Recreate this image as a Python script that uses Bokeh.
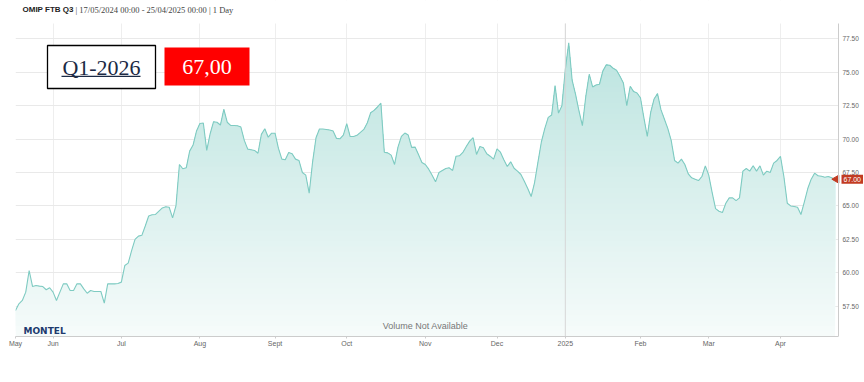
import numpy as np
from bokeh.plotting import figure
from bokeh.models import (FixedTicker, NumeralTickFormatter, Label, BoxAnnotation, Range1d)
from bokeh.embed import file_html
from bokeh.resources import INLINE

# ---------------- data ----------------
# daily settlement prices, one per trading day from 17/05/2024 to 25/04/2025
price = [
    57.18, 57.68, 57.93, 58.55, 60.17, 58.97, 59.05, 59.00, 58.97, 58.73,
    58.88, 58.55, 57.93, 58.55, 59.17, 59.17, 58.67, 58.67, 59.17, 59.17,
    58.80, 58.47, 58.67, 58.60, 58.60, 58.60, 57.73, 59.17, 59.17, 59.17,
    59.20, 59.30, 60.54, 60.72, 61.65, 62.50, 62.74, 62.80, 63.50, 64.25,
    64.34, 64.36, 64.61, 64.85, 64.94, 64.90, 64.11, 65.03, 68.10, 67.78,
    67.85, 69.10, 69.55, 70.60, 71.16, 71.20, 69.15, 70.40, 71.30, 71.26,
    71.05, 72.23, 71.26, 71.02, 71.02, 71.00, 70.90, 69.90, 69.25, 69.20,
    69.15, 68.94, 70.35, 70.77, 70.14, 70.44, 70.44, 69.30, 68.50, 68.45,
    69.00, 68.90, 68.50, 68.40, 67.50, 67.30, 65.95, 68.30, 70.10, 70.75,
    70.75, 70.72, 70.68, 70.60, 70.05, 70.02, 70.30, 71.15, 70.19, 70.19,
    70.28, 70.50, 70.72, 71.20, 71.97, 72.15, 72.40, 72.68, 69.02, 68.97,
    68.80, 68.10, 69.40, 70.20, 70.45, 70.30, 69.38, 69.40, 68.85, 68.25,
    68.10, 67.75, 67.30, 66.80, 67.50, 67.65, 67.80, 67.85, 67.65, 68.72,
    68.75, 69.00, 69.45, 69.85, 70.10, 68.85, 69.45, 69.35, 68.90, 68.72,
    68.50, 69.27, 69.02, 68.45, 67.95, 68.30, 67.82, 67.60, 67.35, 66.85,
    66.30, 65.70, 66.75, 68.30, 69.80, 70.80, 71.62, 71.80, 74.00, 71.94,
    72.50, 75.20, 77.20, 74.40, 73.35, 72.10, 71.00, 73.20, 74.85, 73.90,
    74.05, 74.10, 75.10, 75.55, 75.52, 75.30, 75.15, 74.70, 74.20, 72.50,
    73.95, 73.55, 73.45, 73.09, 71.60, 70.20, 72.00, 73.00, 73.40, 72.20,
    71.50, 70.80, 69.90, 68.40, 68.20, 68.50, 68.10, 67.40, 67.10, 67.00,
    66.90, 67.20, 68.00, 67.30, 66.00, 64.80, 64.60, 64.50, 65.20, 65.60,
    65.60, 65.40, 65.60, 67.60, 67.80, 67.60, 68.00, 67.60, 68.00, 67.30,
    67.60, 67.50, 68.20, 68.40, 68.70, 67.20, 65.20, 65.00, 64.96, 64.90,
    64.36, 65.30, 66.30, 67.00, 67.45, 67.26, 67.22, 67.15, 67.20, 67.10,
    67.00,
]
day = list(range(len(price)))          # trading-day index (ordinal axis)

month_ticks = [0, 11, 31, 54, 76, 97, 120, 141, 161, 183, 203, 224]
month_labels = ["May", "Jun", "Jul", "Aug", "Sept", "Oct", "Nov", "Dec",
                "2025", "Feb", "Mar", "Apr"]
year_tick = 161
y_ticks = [57.5, 60.0, 62.5, 65.0, 67.5, 70.0, 72.5, 75.0, 77.5]

title_name = "OMIP FTB Q3"
title_rest = "| 17/05/2024 00:00 - 25/04/2025 00:00 | 1 Day"
contract = "Q1-2026"
last_price = 67.00

# ---------------- geometry (page pixels) ----------------
W, H = 864, 382
PX_L, PX_AX, PY_TOP_PLOT, PY_B = 15, 838, 23, 336
X_PER = 3.415                     # px per trading day
Y_PER = 13.37                     # px per EUR
X0 = 0.0
X1 = (W - PX_L) / X_PER
Y0 = 77.5 - (PY_B - 38.3) / Y_PER
Y1 = 77.5 + 38.3 / Y_PER
X_AX = (PX_AX - PX_L) / X_PER
Y_TOP = 77.5 + (38.3 - PY_TOP_PLOT) / Y_PER

def sx(px):
    return X0 + (px - PX_L) / X_PER

def sy(py):
    return Y1 - py / Y_PER

p = figure(width=W, height=H, output_backend="svg", toolbar_location=None,
           x_range=Range1d(X0, X1), y_range=Range1d(Y0, Y1),
           y_axis_location="right",
           min_border_left=PX_L, min_border_right=0, min_border_top=0,
           min_border_bottom=H - PY_B)
p.outline_line_color = None
p.background_fill_color = "white"
p.border_fill_color = "white"

# grid
p.xgrid.ticker = FixedTicker(ticks=month_ticks)
p.xgrid.grid_line_color = "#eeeeee"
p.ygrid.ticker = FixedTicker(ticks=y_ticks)
p.ygrid.grid_line_color = "#e9e9e9"
# blank the grid outside the plotting area (above it and right of the axis)
p.add_layout(BoxAnnotation(bottom=Y_TOP, fill_color="white", fill_alpha=1.0,
                           line_color=None, level="underlay"))
p.add_layout(BoxAnnotation(left=X_AX + 0.15, fill_color="white", fill_alpha=1.0,
                           line_color=None, level="underlay"))

# gradient area (opaque bands, bottom to top)
arr = np.array(price)
levels = np.linspace(Y0, Y_TOP, 60)
base = np.array([124, 203, 194])
for k in range(len(levels) - 1):
    lo = levels[k]
    t = (levels[k + 1] - Y0) / (Y_TOP - Y0)
    a = 0.06 + 0.48 * t
    c = (base * a + 255 * (1 - a)).astype(int)
    col = "#%02x%02x%02x" % tuple(c)
    y1 = np.minimum(arr, lo) if k > 0 else np.full_like(arr, Y0)
    p.varea(x=day, y1=y1, y2=arr, fill_color=col, fill_alpha=1.0)

# year separator line (visible through the area)
p.add_layout(BoxAnnotation(left=year_tick - 0.14, right=year_tick + 0.14,
                           bottom=Y0, top=Y_TOP, fill_color="#d6d6d6",
                           fill_alpha=1.0, line_color=None, level="glyph"))

p.line(day, price, line_color="#7fcbc2", line_width=1.1)

# axes
xa = p.xaxis[0]
xa.ticker = FixedTicker(ticks=month_ticks)
xa.major_label_overrides = {t: l for t, l in zip(month_ticks, month_labels)}
xa.bounds = (X0, X_AX)
xa.axis_line_color = "#cccccc"
xa.major_tick_line_color = "#cccccc"
xa.major_tick_out = 2
xa.major_tick_in = 0
xa.minor_tick_line_color = None
xa.major_label_text_font = "Liberation Sans"
xa.major_label_text_font_size = "7px"
xa.major_label_text_color = "#666666"
xa.major_label_standoff = 1

ya = p.yaxis[0]
ya.fixed_location = X_AX
ya.bounds = (Y0, Y_TOP)
ya.ticker = FixedTicker(ticks=y_ticks)
ya.formatter = NumeralTickFormatter(format="0.00")
ya.axis_line_color = "#cccccc"
ya.major_tick_line_color = None
ya.minor_tick_line_color = None
ya.major_tick_out = 0
ya.major_label_text_font = "Liberation Sans"
ya.major_label_text_font_size = "6.5px"
ya.major_label_text_color = "#666666"
ya.major_label_standoff = 4

# title
p.add_layout(Label(x=sx(22), y=sy(9), text=title_name, text_font="Liberation Sans",
                   text_font_style="bold", text_font_size="8px", text_color="#222222",
                   text_baseline="middle"))
p.add_layout(Label(x=sx(75), y=sy(9), text=title_rest, text_font="Liberation Serif",
                   text_font_size="8.5px", text_color="#444444", text_baseline="middle"))

# contract box
p.add_layout(BoxAnnotation(left=sx(47), right=sx(155), top=sy(45), bottom=sy(88),
                           fill_color="white", fill_alpha=1.0, line_color="black",
                           line_width=1.3, line_alpha=1.0))
p.add_layout(Label(x=sx(101), y=sy(67), text=contract, text_font="Liberation Serif",
                   text_font_size="22px", text_color="#1c2a44", text_align="center",
                   text_baseline="middle"))
p.add_layout(BoxAnnotation(left=sx(61), right=sx(140), top=sy(75.3), bottom=sy(76.5),
                           fill_color="#1c2a44", fill_alpha=1.0, line_color=None))

# price box
p.add_layout(BoxAnnotation(left=sx(164), right=sx(249), top=sy(47), bottom=sy(85),
                           fill_color="#ff0000", fill_alpha=1.0, line_color=None))
p.add_layout(Label(x=sx(206.5), y=sy(66), text=f"{last_price:.2f}".replace(".", ","),
                   text_font="Liberation Serif", text_font_size="22px",
                   text_color="white", text_align="center", text_baseline="middle"))

# watermark texts
p.add_layout(Label(x=sx(23), y=sy(330), text="MONTEL", text_font="DejaVu Sans",
                   text_font_style="bold", text_font_size="9px", text_color="#1d3a6e",
                   text_baseline="middle"))
p.add_layout(Label(x=sx(425), y=sy(325), text="Volume Not Available",
                   text_font="Liberation Sans", text_font_size="9px",
                   text_color="#777777", text_align="center", text_baseline="middle"))

# last price tag on the right axis
p.scatter(x=[X_AX - 0.6], y=[price[-1]], marker="triangle", angle=np.pi / 2,
          size=8, fill_color="#c23b22", line_color="#c23b22")
p.add_layout(Label(x=X_AX, y=price[-1], text=f"{last_price:.2f}", x_offset=3,
                   text_font="Liberation Sans", text_font_size="7px",
                   text_color="white", text_baseline="middle",
                   background_fill_color="#c23b22", padding=2))

open("out.html", "w").write(file_html(p, INLINE))
